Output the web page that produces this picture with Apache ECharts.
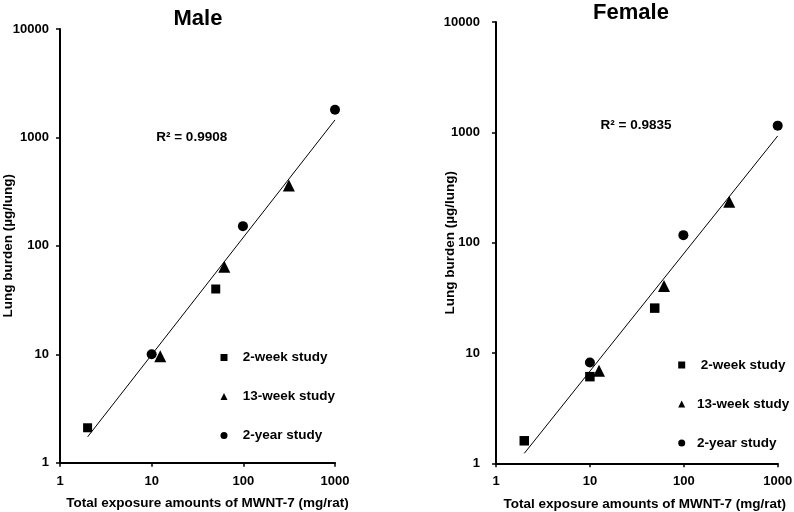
<!DOCTYPE html>
<html>
<head>
<meta charset="utf-8">
<script src="https://cdn.jsdelivr.net/npm/echarts@6/dist/echarts.min.js"></script>
<style>html,body{margin:0;padding:0;background:#fff}#c{width:794px;height:512px}</style>
</head>
<body>
<div id="c"></div>
<script>
// ---- data ----
var seriesNames = ['2-week study', '13-week study', '2-year study'];
var xTicks = [1, 10, 100, 1000];
var yTicks = [1, 10, 100, 1000, 10000];

var male2week  = [[2, 2.1], [50, 40]];
var male13week = [[12.4, 9.6], [62, 64], [314, 360]];
var male2year  = [[10, 10], [99, 152], [1000, 1800]];
var maleTrend  = [[2, 1.73], [1000, 1450]];
var maleR2 = 'R² = 0.9908';

var female2week  = [[2, 1.6], [10, 6.1], [49, 25.5]];
var female13week = [[12.5, 6.9], [61.5, 40.5], [305, 235]];
var female2year  = [[10, 8.2], [99, 117], [1000, 1150]];
var femaleTrend  = [[2, 1.23], [1000, 927]];
var femaleR2 = 'R² = 0.9835';

var titles = ['Male', 'Female'];
var xName = 'Total exposure amounts of MWNT-7 (mg/rat)';
var yName = 'Lung burden (µg/lung)';

// ---- chart ----
var FONT = '"Liberation Sans", Arial, sans-serif';
var chart = echarts.init(document.getElementById('c'), null, {renderer: 'canvas'});

function fmt(v) { return String(Math.round(v)); }

function xAxis(gi, padLeft) {
  return {
    type: 'log', logBase: 10, gridIndex: gi, min: xTicks[0], max: xTicks[xTicks.length - 1],
    name: xName, nameLocation: 'middle', nameGap: 34, nameMoveOverlap: false,
    nameTextStyle: {fontFamily: FONT, fontWeight: 'bold', fontSize: 13.5, color: '#000', padding: [0, 0, 0, padLeft]},
    axisLine: {show: true, lineStyle: {color: '#000', width: 2}},
    axisTick: {show: true, length: 4, lineStyle: {color: '#000', width: 1.5}},
    axisLabel: {fontFamily: FONT, fontWeight: 'bold', fontSize: 13, color: '#000', margin: 12, formatter: fmt},
    splitLine: {show: false}, minorTick: {show: false}
  };
}
function yAxis(gi, nameGap, margin) {
  return {
    type: 'log', logBase: 10, gridIndex: gi, min: yTicks[0], max: yTicks[yTicks.length - 1],
    name: yName, nameLocation: 'middle', nameGap: nameGap, nameRotate: 90, nameMoveOverlap: false,
    nameTextStyle: {fontFamily: FONT, fontWeight: 'bold', fontSize: 13.5, color: '#000'},
    axisLine: {show: true, lineStyle: {color: '#000', width: 2}},
    axisTick: {show: true, length: 4, lineStyle: {color: '#000', width: 1.5}},
    axisLabel: {fontFamily: FONT, fontWeight: 'bold', fontSize: 13, color: '#000', margin: margin, formatter: fmt},
    splitLine: {show: false}, minorTick: {show: false}
  };
}
function scatter(name, data, gi, symbol, size) {
  return {
    type: 'scatter', name: name, xAxisIndex: gi, yAxisIndex: gi, data: data,
    symbol: symbol, symbolSize: size,
    itemStyle: {color: '#000', opacity: 1},
    emphasis: {disabled: true}, z: 3
  };
}
function trend(data, gi) {
  return {
    type: 'line', name: 'trend' + gi, xAxisIndex: gi, yAxisIndex: gi, data: data,
    showSymbol: false, symbol: 'none', lineStyle: {color: '#000', width: 1}, z: 2, silent: true
  };
}
function legend(left, top, textPad, fmtFn) {
  return {
    orient: 'vertical', left: left, top: top, itemWidth: 7, itemHeight: 7, itemGap: 25,
    data: seriesNames, selectedMode: false,
    textStyle: {fontFamily: FONT, fontWeight: 'bold', fontSize: 13.5, color: '#000', padding: [0, 0, 0, textPad]},
    formatter: fmtFn
  };
}
function label(x, y, text, size) {
  return {
    type: 'text', x: x, y: y, silent: true,
    style: {text: text, x: 0, y: 0, textAlign: 'center', textVerticalAlign: 'middle',
      font: 'bold ' + size + 'px ' + FONT, fill: '#000'}
  };
}

chart.setOption({
  animation: false,
  backgroundColor: '#fff',
  grid: [
    {left: 60, top: 29, width: 275, height: 433.7, containLabel: false, outerBoundsMode: 'none'},
    {left: 496, top: 22, width: 281.7, height: 441.3, containLabel: false, outerBoundsMode: 'none'}
  ],
  xAxis: [xAxis(0, 20), xAxis(1, 16)],
  yAxis: [yAxis(0, 45, 11), yAxis(1, 39, 16)],
  legend: [
    legend(215.5, 345.5, 10.2, function (n) { return n; }),
    legend(673.2, 353, 6.8, function (n) { return n === seriesNames[0] ? ' ' + n : n; })
  ],
  graphic: [
    label(198, 19, titles[0], 22),
    label(631, 13, titles[1], 22),
    label(191.7, 137, maleR2, 13.5),
    label(636, 125.7, femaleR2, 13.5)
  ],
  series: [
    trend(maleTrend, 0),
    scatter(seriesNames[0], male2week, 0, 'rect', 9),
    scatter(seriesNames[1], male13week, 0, 'triangle', 12),
    scatter(seriesNames[2], male2year, 0, 'circle', 10),
    trend(femaleTrend, 1),
    scatter(seriesNames[0], female2week, 1, 'rect', 9.5),
    scatter(seriesNames[1], female13week, 1, 'triangle', 12),
    scatter(seriesNames[2], female2year, 1, 'circle', 10)
  ]
});
</script>
</body>
</html>
